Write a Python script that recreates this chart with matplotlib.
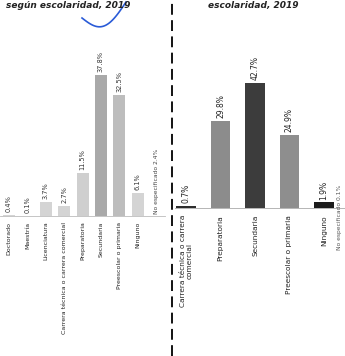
import numpy as np
import matplotlib.pyplot as plt
from matplotlib.lines import Line2D

# left panel: population by schooling (all)
left_cats = ["Doctorado", "Maestría", "Licenciatura",
             "Carrera técnica o carrera comercial", "Preparatoria",
             "Secundaria", "Preescolar o primaria", "Ninguno"]
left_vals = [0.4, 0.1, 3.7, 2.7, 11.5, 37.8, 32.5, 6.1]
left_noesp = 2.4

# right panel
right_cats = ["Carrera técnica o carrera\ncomercial", "Preparatoria",
              "Secundaria", "Preescolar o primaria", "Ninguno"]
right_vals = [0.7, 29.8, 42.7, 24.9, 1.9]
right_noesp = 0.1

left_colors = ["#d4d4d4", "#d4d4d4", "#d4d4d4", "#d4d4d4", "#cfcfcf",
               "#a9a9a9", "#bdbdbd", "#d4d4d4"]
right_colors = ["#2e2e2e", "#8c8c8c", "#3c3c3c", "#8e8e8e", "#1c1c1c"]

W, H = 345, 356
fig = plt.figure(figsize=(W / 100, H / 100), dpi=100)


def fx(px):
    return px / W


def fy(py):
    return 1 - py / H


# ---- left chart
ax1 = fig.add_axes([0, fy(216), fx(165), 216 / H])
x1 = np.arange(len(left_vals))
ax1.bar(x1, left_vals, width=0.65, color=left_colors)
ax1.set_xlim(-0.49, 8.48)
ax1.set_ylim(0, 58)
for xi, v in zip(x1, left_vals):
    ax1.text(xi, v + 0.8, "{:.1f}%".format(v), rotation=90, ha="center",
             va="bottom", fontsize=4.8, color="#333333")
ax1.text(8, 0.5, "No especificado {:.1f}%".format(left_noesp), rotation=90,
         ha="center", va="bottom", fontsize=4.3, color="#444444")
ax1.set_xticks(x1)
ax1.set_xticklabels(left_cats, rotation=90, fontsize=4.5, color="#222222")
ax1.tick_params(axis="x", length=0, pad=4)
ax1.set_yticks([])
for s in ["top", "left", "right"]:
    ax1.spines[s].set_visible(False)
ax1.spines["bottom"].set_color("#bbbbbb")
ax1.spines["bottom"].set_linewidth(0.6)
ax1.patch.set_alpha(0)

# ---- right chart
ax2 = fig.add_axes([fx(175), fy(208), fx(170), 208 / H])
x2 = np.arange(len(right_vals))
ax2.bar(x2, right_vals, width=0.56, color=right_colors)
ax2.set_xlim(-0.32, 4.61)
ax2.set_ylim(0, 71)
for xi, v in zip(x2, right_vals):
    ax2.text(xi, v + 1.0, "{:.1f}%".format(v), rotation=90, ha="center",
             va="bottom", fontsize=5.5, color="#222222")
ax2.set_xticks(x2)
ax2.set_xticklabels(right_cats, rotation=90, fontsize=5.3, color="#222222")
ax2.tick_params(axis="x", length=0, pad=5)
ax2.set_yticks([])
for s in ["top", "left", "right"]:
    ax2.spines[s].set_visible(False)
ax2.spines["bottom"].set_color("#aaaaaa")
ax2.spines["bottom"].set_linewidth(0.6)
ax2.patch.set_alpha(0)

fig.text(fx(340), fy(250), "No especificado {:.1f}%".format(right_noesp),
         rotation=90, ha="center", va="bottom", fontsize=4.3,
         color="#555555")

# titles at the top of the scan
fig.text(fx(6), fy(1), "según escolaridad, 2019", fontsize=6.5,
         fontweight="bold", style="italic", ha="left", va="top",
         color="#222222")
fig.text(fx(208), fy(1), "escolaridad, 2019", fontsize=6.5,
         fontweight="bold", style="italic", ha="left", va="top",
         color="#222222")

# dashed divider
fig.add_artist(Line2D([fx(172), fx(172)], [0, 1], color="black",
                      linestyle=(0, (6, 3)), linewidth=1.3))

# pen mark
t = np.linspace(0, 1, 30)
px = 82 + 44 * t
py = 18 + 16 * np.sin(np.pi * t) - 16 * t
fig.add_artist(Line2D(fx(px), fy(py), color="#2a5bd7", linewidth=1.2))

fig.savefig("out.png", dpi=100)
